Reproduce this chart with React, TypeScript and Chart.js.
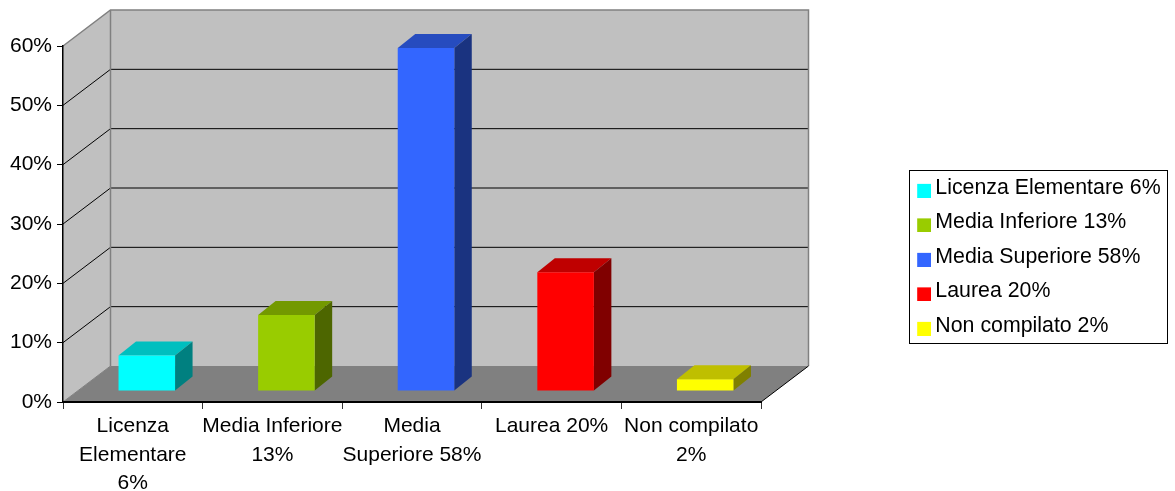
import React, { useEffect, useRef } from "react";
import { Chart, registerables } from "chart.js";

Chart.register(...registerables);

const categories = [
  ["Licenza", "Elementare", "6%"],
  ["Media Inferiore", "13%"],
  ["Media", "Superiore 58%"],
  ["Laurea 20%"],
  ["Non compilato", "2%"],
];
const legendLabels = [
  "Licenza Elementare 6%",
  "Media Inferiore 13%",
  "Media Superiore 58%",
  "Laurea 20%",
  "Non compilato 2%",
];
const values = [6, 12.8, 57.8, 20, 2];
const frontColors = ["#00FFFF", "#99CC00", "#3366FF", "#FF0000", "#FFFF00"];
const topColors = ["#00BFBF", "#739900", "#264CBF", "#BF0000", "#BFBF00"];
const sideColors = ["#008080", "#4D6600", "#1A3380", "#800000", "#808000"];

const FONT = "'Liberation Sans', Arial, sans-serif";
const WALL_DX = 47.5;
const WALL_DY = 36;
const BAR_SHIFT_X = 14;
const BAR_SHIFT_Y = 11;
const BAR_DX = 17.5;
const BAR_DY = 14;

function poly(ctx: CanvasRenderingContext2D, pts: number[][], fill?: string, stroke?: string, lw = 1) {
  ctx.beginPath();
  pts.forEach((p, i) => (i ? ctx.lineTo(p[0], p[1]) : ctx.moveTo(p[0], p[1])));
  ctx.closePath();
  if (fill) {
    ctx.fillStyle = fill;
    ctx.fill();
  }
  if (stroke) {
    ctx.strokeStyle = stroke;
    ctx.lineWidth = lw;
    ctx.stroke();
  }
}

function line(ctx: CanvasRenderingContext2D, pts: number[][], color: string, lw = 1) {
  ctx.beginPath();
  pts.forEach((p, i) => (i ? ctx.lineTo(p[0], p[1]) : ctx.moveTo(p[0], p[1])));
  ctx.strokeStyle = color;
  ctx.lineWidth = lw;
  ctx.stroke();
}

const box3d = {
  id: "box3d",
  afterLayout(chart: any) {
    const lg = chart.legend;
    const w = lg.width;
    const h = lg.height;
    lg.left = 908.5;
    lg.top = 164;
    lg.right = lg.left + w;
    lg.bottom = lg.top + h;
  },
  beforeDraw(chart: any) {
    const ctx = chart.ctx as CanvasRenderingContext2D;
    const { left, right, top, bottom } = chart.chartArea;
    const yScale = chart.scales.y;
    const d = WALL_DX;
    const e = WALL_DY;
    ctx.save();
    // legend frame
    ctx.fillStyle = "#FFFFFF";
    ctx.fillRect(909.5, 170.5, 258, 173);
    ctx.strokeStyle = "#000000";
    ctx.lineWidth = 1;
    ctx.strokeRect(909.5, 170.5, 258, 173);
    // walls
    poly(ctx, [[left, bottom], [left, top], [left + d, top - e], [left + d, bottom - e]], "#C0C0C0");
    poly(ctx, [[left + d, bottom - e], [left + d, top - e], [right + d, top - e], [right + d, bottom - e]], "#C0C0C0");
    // floor
    poly(ctx, [[left, bottom], [right, bottom], [right + d, bottom - e], [left + d, bottom - e]], "#808080");
    // gridlines
    for (const t of yScale.ticks) {
      if (t.value === 0 || t.value === yScale.max) continue;
      const y = yScale.getPixelForValue(t.value);
      line(ctx, [[left, y], [left + d, y - e], [right + d, y - e]], "#000000", 1);
    }
    // wall edges
    line(ctx, [[left, top], [left + d, top - e], [right + d, top - e], [right + d, bottom - e]], "#808080", 1.5);
    line(ctx, [[left + d, top - e], [left + d, bottom - e]], "#808080", 1.5);
    line(ctx, [[left, bottom], [left + d, bottom - e]], "#808080", 1);
    line(ctx, [[right, bottom], [right + d, bottom - e]], "#000000", 1);
    ctx.restore();
  },
  beforeDatasetDraw(chart: any, args: any) {
    const ctx = chart.ctx as CanvasRenderingContext2D;
    const meta = chart.getDatasetMeta(args.index);
    ctx.save();
    ctx.translate(BAR_SHIFT_X, -BAR_SHIFT_Y);
    meta.data.forEach((el: any, i: number) => {
      const l = el.x - el.width / 2;
      const r = el.x + el.width / 2;
      poly(ctx, [[l, el.y], [l + BAR_DX, el.y - BAR_DY], [r + BAR_DX, el.y - BAR_DY], [r, el.y]], topColors[i]);
      poly(ctx, [[r, el.y], [r + BAR_DX, el.y - BAR_DY], [r + BAR_DX, el.base - BAR_DY], [r, el.base]], sideColors[i]);
    });
  },
  afterDatasetDraw(chart: any) {
    chart.ctx.restore();
  },
};

function swatch(color: string) {
  // Larger than the mark so that the mark sits a little off the text's centre.
  const c = document.createElement("canvas");
  c.width = 16;
  c.height = 20;
  const g = c.getContext("2d")!;
  g.fillStyle = color;
  g.fillRect(2, 6, 14, 14);
  return c;
}

export default function App() {
  const ref = useRef<HTMLCanvasElement>(null);
  useEffect(() => {
    const chart = new Chart(ref.current!, {
      type: "bar",
      data: {
        labels: categories as any,
        datasets: [
          {
            label: "Titolo di studio",
            data: values,
            backgroundColor: frontColors,
            borderWidth: 0,
            barPercentage: 0.405,
            categoryPercentage: 1,
            clip: false as any,
          },
        ],
      },
      plugins: [box3d as any],
      options: {
        responsive: false,
        animation: false,
        maintainAspectRatio: false,
        layout: { padding: { top: 46, right: 414, left: 0, bottom: 0 } },
        scales: {
          x: {
            type: "category",
            offset: true,
            afterFit: (s: any) => {
              s.height = 89;
            },
            grid: { offset: true, drawOnChartArea: false, tickLength: 7, tickColor: "#333333", tickWidth: 1 },
            border: { color: "#000000", width: 2 },
            ticks: {
              autoSkip: false,
              maxRotation: 0,
              minRotation: 0,
              color: "#000000",
              padding: 3,
              font: { family: FONT, size: 21, lineHeight: 28.5 / 21 },
            },
          },
          y: {
            min: 0,
            max: 60,
            afterFit: (s: any) => {
              s.width = 63;
            },
            grid: { drawOnChartArea: false, tickLength: 6, tickColor: "#000000", tickWidth: 1 },
            border: { color: "#000000", width: 1.5 },
            ticks: {
              stepSize: 10,
              color: "#000000",
              padding: 5,
              font: { family: FONT, size: 21 },
              callback: (v: any) => `${v}%`,
            },
          },
        },
        plugins: {
          title: { display: false },
          tooltip: { enabled: false },
          legend: {
            display: true,
            position: "chartArea",
            align: "start",
            labels: {
              usePointStyle: true,
              boxWidth: 3,
              pointStyleWidth: 3,
              padding: 13.17,
              color: "#000000",
              font: { family: FONT, size: 21.33 },
              generateLabels: () =>
                legendLabels.map((text, i) => ({
                  text,
                  fillStyle: frontColors[i],
                  strokeStyle: frontColors[i],
                  lineWidth: 0,
                  pointStyle: swatch(frontColors[i]),
                  datasetIndex: 0,
                  index: i,
                })),
            },
          },
        },
      } as any,
    });
    return () => chart.destroy();
  }, []);
  return (
    <div style={{ position: "absolute", left: 0, top: 0, width: 1175, height: 491, background: "#fff" }}>
      <canvas ref={ref} width={1175} height={491} style={{ display: "block" }} />
    </div>
  );
}
